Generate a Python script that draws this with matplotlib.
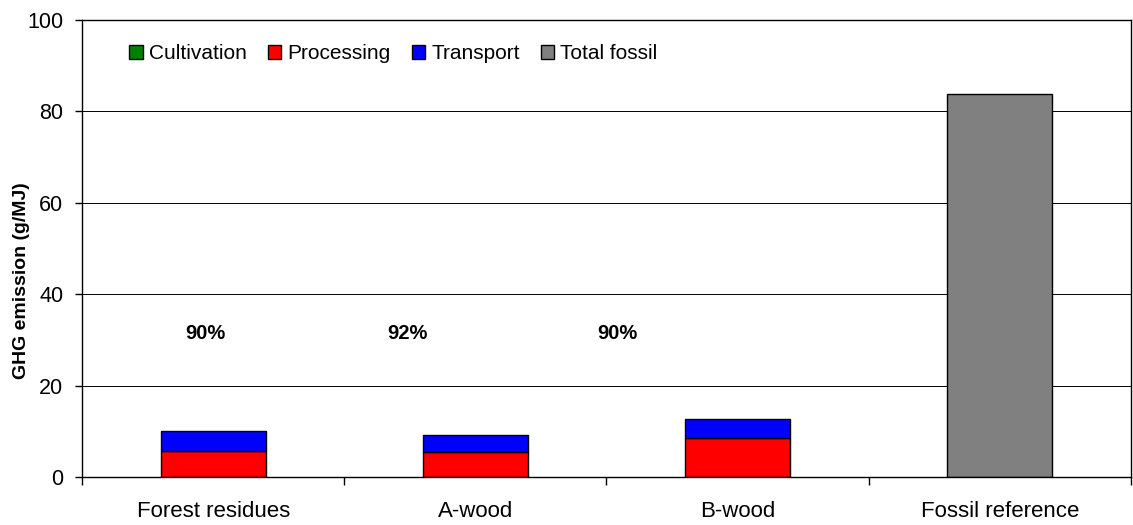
import matplotlib
matplotlib.use('Agg')
import matplotlib.pyplot as plt
import numpy as np

categories = ['Forest residues', 'A-wood', 'B-wood', 'Fossil reference']
cultivation = [0.0, 0.0, 0.0, 0.0]
processing = [5.8, 5.5, 8.5, 0.0]
transport = [4.2, 3.7, 4.25, 0.0]
total_fossil = [0.0, 0.0, 0.0, 83.9]
savings = ['90%', '92%', '90%']

plt.rcParams['font.family'] = ['Liberation Sans', 'DejaVu Sans']

fig = plt.figure(figsize=(11.33, 5.25), dpi=100)
ax = fig.add_axes([0.0724, 0.0914, 0.9258, 0.8705])

x = np.arange(len(categories))
w = 0.4
edge = dict(edgecolor='black', linewidth=1.0, width=w)
b0 = np.zeros(len(categories))
ax.bar(x, cultivation, bottom=b0, color='#008000', label='Cultivation', **edge)
b1 = b0 + np.array(cultivation)
ax.bar(x[:3], processing[:3], bottom=b1[:3], color='#FF0000', label='Processing', **edge)
b2 = b1 + np.array(processing)
ax.bar(x[:3], transport[:3], bottom=b2[:3], color='#0000FF', label='Transport', **edge)
ax.bar(x[3:], total_fossil[3:], color='#808080', label='Total fossil', **edge)

# percentage labels, slightly left of the bars like the original
pct_x = [-0.03, 0.74, 1.54]
for px, s in zip(pct_x, savings):
    ax.text(px, 31.5, s, ha='center', va='center', fontsize=14.5, fontweight='bold')

ax.set_xlim(-0.5, 3.5)
ax.set_ylim(0, 100)
ax.set_yticks(np.arange(0, 101, 20))
ax.yaxis.grid(True, color='black', linewidth=0.7)
ax.set_axisbelow(True)

ax.set_xticks(np.arange(-0.5, 3.6, 1.0))
ax.set_xticklabels([])
ax.set_xticks(x, minor=True)
ax.set_xticklabels(categories, minor=True, fontsize=16)
ax.tick_params(axis='x', which='minor', length=0, pad=17)
ax.tick_params(axis='x', which='major', length=5.5, width=1, direction='out')
ax.tick_params(axis='y', length=5, width=1, labelsize=15.5, pad=8.5)

for sp in ax.spines.values():
    sp.set_linewidth(1.0)
    sp.set_color('black')

ax.set_ylabel('GHG emission (g/MJ)', fontsize=14, fontweight='bold')
ax.yaxis.set_label_coords(-0.0496, 0.429)

leg = ax.legend(loc='upper left', ncol=4, frameon=False, fontsize=15,
                bbox_to_anchor=(0.037, 0.966), handlelength=0.65, handleheight=0.65,
                handletextpad=0.3, columnspacing=1.0, borderaxespad=0)

fig.savefig('out.png', dpi=100)
